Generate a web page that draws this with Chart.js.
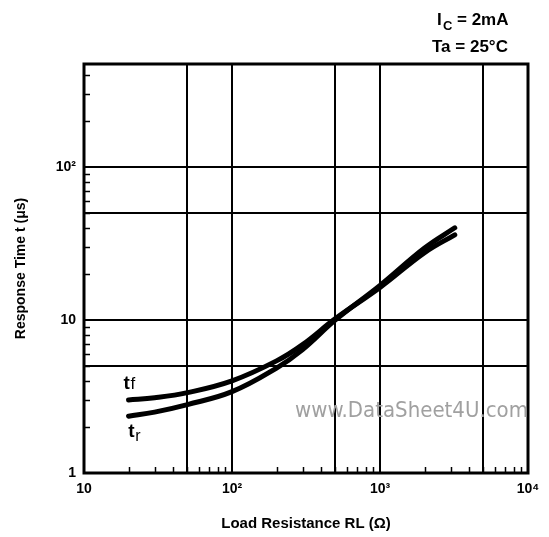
<!DOCTYPE html>
<html>
<head>
<meta charset="utf-8">
<script src="https://cdn.jsdelivr.net/npm/chart.js@4.4.0/dist/chart.umd.min.js"></script>
<style>
    html, body { margin: 0; padding: 0; background: #fff; }
    #wrap { width: 549px; height: 537px; position: relative; }
</style>
</head>
<body>
<div id="wrap"><canvas id="respChart" width="549" height="537"></canvas></div>
<script>
// Data (Ic = 2mA, Ta = 25°C)
const loadResistance = [20, 30, 50, 100, 200, 300, 500, 1000, 2000, 3200];
const tfValues = [3.0, 3.1, 3.35, 4.0, 5.4, 6.9, 10.2, 16.3, 27.5, 36];
const trValues = [2.35, 2.5, 2.8, 3.4, 4.85, 6.4, 10.0, 16.8, 29.5, 40];

// Grid lines and labelled ticks
const xGridValues = [10, 50, 100, 500, 1000, 5000, 10000];
const xTickLabels = { 10: '10', 100: '10²', 1000: '10³', 10000: '10⁴' };
const yGridValues = [1, 5, 10, 50, 100];
const yTickLabels = { 1: '1', 10: '10', 100: '10²' };

const FONT = '"Liberation Sans", Arial, sans-serif';

// frame, small inner ticks, curve labels, conditions and watermark
const decorPlugin = {
    id: 'decor',
    beforeDatasetsDraw(chart) {
        const { ctx, chartArea: a, scales: { x, y } } = chart;
        ctx.save();
        ctx.strokeStyle = '#000';
        ctx.lineWidth = 1.5;
        // small inward ticks on left and bottom axes
        for (let d = 1; d <= 100; d *= 10) {
            for (let m = 2; m <= 9; m++) {
                const v = d * m;
                if (v > y.max) continue;
                const py = Math.round(y.getPixelForValue(v)) + 0.5;
                ctx.beginPath();
                ctx.moveTo(a.left, py);
                ctx.lineTo(a.left + 6, py);
                ctx.stroke();
            }
        }
        for (let d = 10; d <= 1000; d *= 10) {
            for (let m = 2; m <= 9; m++) {
                const px = Math.round(x.getPixelForValue(d * m)) + 0.5;
                ctx.beginPath();
                ctx.moveTo(px, a.bottom);
                ctx.lineTo(px, a.bottom - 6);
                ctx.stroke();
            }
        }
        // frame
        ctx.lineWidth = 3;
        ctx.strokeRect(a.left, a.top, a.right - a.left, a.bottom - a.top);
        ctx.restore();
    },
    afterDraw(chart) {
        const { ctx, scales: { x, y } } = chart;
        ctx.save();
        ctx.fillStyle = '#000';
        // curve labels
        ctx.textBaseline = 'alphabetic';
        const tfx = x.getPixelForValue(20), tfy = y.getPixelForValue(3.55);
        ctx.font = 'bold 19px ' + FONT;
        ctx.fillText('t', tfx - 5, tfy);
        ctx.font = '17px ' + FONT;
        ctx.fillText('f', tfx + 2, tfy);
        const trx = x.getPixelForValue(21.5), tr_y = y.getPixelForValue(1.72);
        ctx.font = 'bold 19px ' + FONT;
        ctx.fillText('t', trx - 5, tr_y);
        ctx.font = '16px ' + FONT;
        ctx.fillText('r', trx + 2, tr_y + 4);

        // test conditions, top right
        ctx.font = 'bold 17px ' + FONT;
        ctx.textAlign = 'left';
        ctx.fillText('I', 437, 25);
        ctx.font = 'bold 13px ' + FONT;
        ctx.fillText('C', 443, 30);
        ctx.font = 'bold 17px ' + FONT;
        ctx.fillText('= 2mA', 457, 25);
        ctx.fillText('Ta = 25°C', 432, 52);

        // watermark
        ctx.fillStyle = '#a0a0a0';
        ctx.font = '22px "DejaVu Sans Condensed", "DejaVu Sans", sans-serif';
        ctx.textBaseline = 'middle';
        ctx.fillText('www.DataSheet4U.com', 295, 411);
        ctx.restore();
    }
};

const makePoints = (vals) => loadResistance.map((r, i) => ({ x: r, y: vals[i] }));

new Chart(document.getElementById('respChart'), {
    type: 'line',
    data: {
        datasets: [
            {
                label: 'tf',
                data: makePoints(tfValues),
                borderColor: '#000',
                borderWidth: 5,
                borderCapStyle: 'round',
                pointRadius: 0,
                tension: 0.4,
                fill: false
            },
            {
                label: 'tr',
                data: makePoints(trValues),
                borderColor: '#000',
                borderWidth: 5,
                borderCapStyle: 'round',
                pointRadius: 0,
                tension: 0.4,
                fill: false
            }
        ]
    },
    options: {
        responsive: false,
        animation: false,
        layout: { padding: { top: 64, right: 21, left: 0, bottom: 0 } },
        plugins: {
            legend: { display: false },
            tooltip: { enabled: false }
        },
        scales: {
            x: {
                type: 'logarithmic',
                min: 10,
                max: 10000,
                afterBuildTicks: (scale) => { scale.ticks = xGridValues.map(v => ({ value: v })); },
                afterFit: (scale) => { scale.height = 64; },
                grid: { color: '#000', lineWidth: 2, drawTicks: false },
                border: { display: false },
                ticks: {
                    padding: 8,
                    maxRotation: 0,
                    autoSkip: false,
                    color: '#000',
                    font: { family: FONT, size: 14, weight: 'bold' },
                    callback: (v) => xTickLabels[v] || ''
                },
                title: {
                    display: true,
                    text: 'Load Resistance RL (Ω)',
                    color: '#000',
                    font: { family: FONT, size: 15, weight: 'bold' },
                    padding: { top: 12 }
                }
            },
            y: {
                type: 'logarithmic',
                min: 1,
                max: 470,
                afterBuildTicks: (scale) => { scale.ticks = yGridValues.map(v => ({ value: v })); },
                afterFit: (scale) => { scale.width = 84; },
                grid: { color: '#000', lineWidth: 2, drawTicks: false },
                border: { display: false },
                ticks: {
                    padding: 8,
                    autoSkip: false,
                    color: '#000',
                    font: { family: FONT, size: 14, weight: 'bold' },
                    callback: (v) => yTickLabels[v] || ''
                },
                title: {
                    display: true,
                    text: 'Response Time t (μs)',
                    color: '#000',
                    font: { family: FONT, size: 14, weight: 'bold' },
                    padding: { top: 13, bottom: 0 }
                }
            }
        }
    },
    plugins: [decorPlugin]
});
</script>
</body>
</html>
